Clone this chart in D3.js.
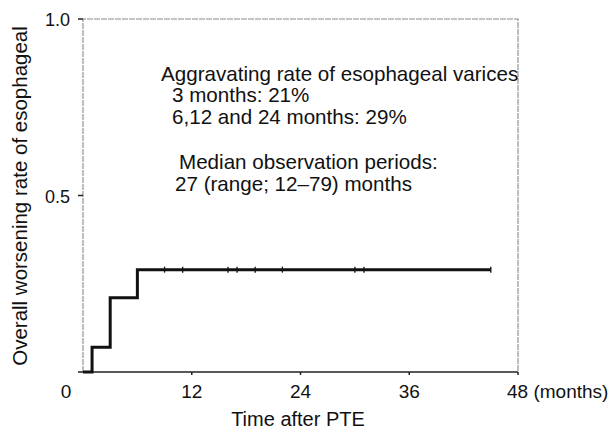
<!DOCTYPE html>
<meta charset="utf-8">
<html lang="en">
<head>
	<title>Overall worsening rate of esophageal varices</title>
	<script src="https://d3js.org/d3.v7.min.js"></script>
	<style>
		body { margin: 0; background: #fff; }
		text { font-family: "Liberation Sans", Arial, Helvetica, sans-serif; fill: #111; }
	</style>
</head>
<body>
	<script>
// step curve (Kaplan-Meier style), months -> cumulative rate
var stepMonths = [0, 1, 3, 6, 45];
var stepRates = [0, 0.07, 0.21, 0.29, 0.29];
// censored observations (small tick marks on the curve)
var censorMonths = [9, 11, 16, 17, 19, 22, 30, 31, 45];
var censorRate = 0.29;

var xTicks = [0, 12, 24, 36, 48];
var xTickLabels = ["0", "12", "24", "36", "48 (months)"];
var yTicks = [0, 0.5, 1.0];
var yTickLabels = ["", "0.5", "1.0"];

var noteLines = [
  "Aggravating rate of esophageal varices",
  "3 months: 21%",
  "6,12 and 24 months: 29%",
  "Median observation periods:",
  "27 (range; 12\u201379) months"
];

var width = 615,
    height = 429;

var x = d3.scaleLinear().domain([0, 48]).range([83, 518]);
var y = d3.scaleLinear().domain([0, 1]).range([372, 19]);

var svg = d3.select("body").append("svg")
    .attr("width", width)
    .attr("height", height);

// frame (top / right / left are faint grey lines)
svg.append("path")
    .attr("d", "M" + x(0) + "," + y(0) + "V" + y(1) + "H" + x(48) + "V" + y(0))
    .attr("fill", "none")
    .attr("stroke", "#8a8a8a")
    .attr("stroke-width", 1.1)
    .attr("stroke-dasharray", "6,1");

// x axis
svg.append("line")
    .attr("x1", x(0)).attr("x2", x(48))
    .attr("y1", y(0)).attr("y2", y(0))
    .attr("stroke", "#222")
    .attr("stroke-width", 1.5);

svg.selectAll(".xtick")
  .data(xTicks.slice(1))
  .enter().append("line")
    .attr("x1", function(d) { return x(d); })
    .attr("x2", function(d) { return x(d); })
    .attr("y1", y(0)).attr("y2", y(0) + 3)
    .attr("stroke", "#222")
    .attr("stroke-width", 1.5);

svg.selectAll(".xlabel")
  .data(xTicks)
  .enter().append("text")
    .attr("x", function(d, i) { return i == 0 ? 66 : (i == 4 ? x(d) - 11 : x(d)); })
    .attr("y", 398)
    .attr("text-anchor", function(d, i) { return i == 4 ? "start" : "middle"; })
    .style("font-size", "19px")
    .text(function(d, i) { return xTickLabels[i]; });

svg.append("text")
    .attr("x", 298)
    .attr("y", 426)
    .attr("text-anchor", "middle")
    .style("font-size", "20px")
    .text("Time after PTE");

// y axis ticks
svg.selectAll(".ytick")
  .data(yTicks)
  .enter().append("line")
    .attr("x1", x(0) - 5).attr("x2", x(0))
    .attr("y1", function(d) { return y(d); })
    .attr("y2", function(d) { return y(d); })
    .attr("stroke", "#222")
    .attr("stroke-width", 1.5);

svg.selectAll(".ylabel")
  .data(yTicks)
  .enter().append("text")
    .attr("x", 70)
    .attr("y", function(d) { return y(d) + 7; })
    .attr("text-anchor", "end")
    .style("font-size", "18px")
    .text(function(d, i) { return yTickLabels[i]; });

svg.append("text")
    .attr("transform", "translate(27,196) rotate(-90)")
    .attr("text-anchor", "middle")
    .style("font-size", "20.5px")
    .text("Overall worsening rate of esophageal");

// step curve
var stepData = stepMonths.map(function(m, i) { return [m, stepRates[i]]; });
var line = d3.line()
    .x(function(d) { return x(d[0]); })
    .y(function(d) { return y(d[1]); })
    .curve(d3.curveStepAfter);

svg.append("path")
    .datum(stepData)
    .attr("d", line)
    .attr("fill", "none")
    .attr("stroke", "#111")
    .attr("stroke-width", 3);

svg.selectAll(".censor")
  .data(censorMonths)
  .enter().append("line")
    .attr("x1", function(d) { return x(d); })
    .attr("x2", function(d) { return x(d); })
    .attr("y1", y(censorRate) - 3)
    .attr("y2", y(censorRate) + 3)
    .attr("stroke", "#111")
    .attr("stroke-width", 1.3);

// annotation
var noteX = [161, 172, 172, 179, 175];
var noteY = [81, 102, 124, 169, 191];
svg.selectAll(".note")
  .data(noteLines)
  .enter().append("text")
    .attr("x", function(d, i) { return noteX[i]; })
    .attr("y", function(d, i) { return noteY[i]; })
    .style("font-size", "20.6px")
    .text(function(d) { return d; });
	</script>
</body>
</html>
